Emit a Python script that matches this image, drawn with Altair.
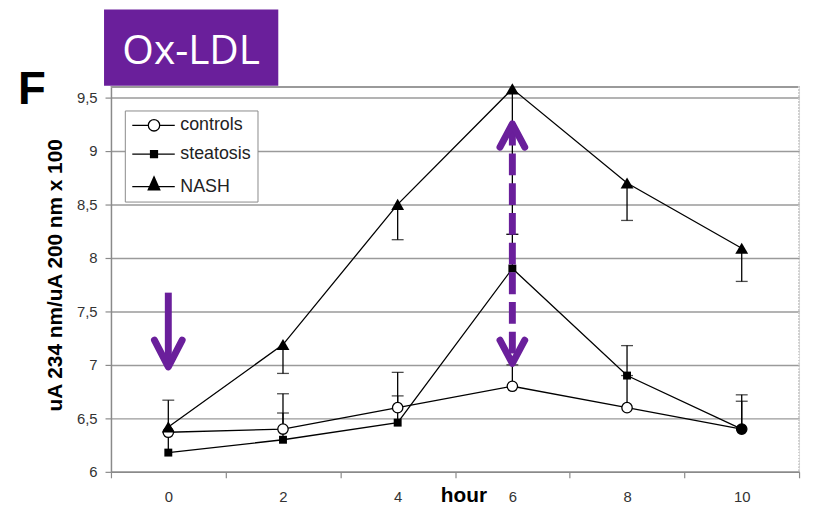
import altair as alt
import pandas as pd

# ---------------- data ----------------
hours = ["0", "2", "4", "6", "8", "10"]
series_names = ["controls", "steatosis", "NASH"]
controls = [6.37, 6.40, 6.60, 6.80, 6.60, 6.40]
steatosis = [6.18, 6.30, 6.46, 7.90, 6.90, 6.40]
nash = [6.42, 7.19, 8.50, 9.58, 8.70, 8.09]

# error bars: start value -> capped end value
err_hour = ["0", "2", "2", "2", "4", "4", "4", "6", "6", "6", "8", "8", "8", "10", "10", "10"]
err_from = [6.18, 7.19, 6.40, 6.30, 8.50, 6.60, 6.46, 9.58, 7.90, 6.80, 8.70, 6.90, 6.60, 8.09, 6.40, 6.40]
err_to = [6.67, 6.92, 6.73, 6.55, 8.17, 6.93, 6.71, 8.22, 8.22, 7.00, 8.35, 7.18, 6.90, 7.78, 6.72, 6.66]

y_ticks = [6, 6.5, 7, 7.5, 8, 8.5, 9, 9.5]
y_min, y_max = 6, 9.6

# purple annotation arrows (data units)
arrow1_hour, arrow1_top, arrow1_tip = "0", 7.675, 6.981
arrow2_hour, arrow2_top, arrow2_bottom = "6", 9.253, 7.013

panel_letter = "F"
badge_text = "Ox-LDL"

# ---------------- styling ----------------
W, H = 695, 389
PURPLE = "#6a1f9b"
FONT = "Liberation Sans"

df = pd.DataFrame({
    "hour": hours * 3,
    "series": [s for s in series_names for _ in hours],
    "value": controls + steatosis + nash,
})
df_err = pd.DataFrame({"hour": err_hour, "value": err_from, "to": err_to})
df_a1 = pd.DataFrame({"hour": [arrow1_hour], "value": [arrow1_top], "tip": [arrow1_tip]})
df_a2 = pd.DataFrame({"hour": [arrow2_hour], "value": [arrow2_top], "tip": [arrow2_bottom]})

xscale = alt.Scale(type="band", domain=hours, paddingInner=0, paddingOuter=0)
yscale = alt.Scale(domain=[y_min, y_max], nice=False, zero=False)

xaxis = alt.Axis(
    title="hour", tickBand="extent", labelAngle=0, grid=False,
    domainColor="#8a8a8a", domainWidth=1.5, tickColor="#8a8a8a", tickWidth=1.2, tickSize=6,
    labelFont=FONT, labelFontSize=15, labelColor="#333", labelPadding=12,
    titleFont=FONT, titleFontSize=21, titleFontWeight="bold", titleColor="black",
    titleX=356, titleY=30, titleBaseline="alphabetic", titleAlign="center",
)
yaxis = alt.Axis(
    title="uA 234 nm/uA 200 nm x 100", values=y_ticks,
    labelExpr="replace(toString(datum.value), '.', ',')",
    grid=True, gridColor="#9a9a9a", gridWidth=1.5,
    domainColor="#8a8a8a", domainWidth=1.5, tickColor="#8a8a8a", tickWidth=1.2, tickSize=6,
    labelFont=FONT, labelFontSize=15, labelColor="#333", labelPadding=8,
    titleFont=FONT, titleFontSize=21, titleFontWeight="bold", titleColor="black",
    titleX=-50, titleY=190, titleBaseline="alphabetic", titleAlign="center", titleAngle=-90,
)

X = alt.X("hour:N", sort=hours, scale=xscale, axis=xaxis)


def Y(field):
    return alt.Y(field, scale=yscale, axis=yaxis)


top_rule = alt.Chart(df).mark_rule(color="#9a9a9a", strokeWidth=1.5).encode(
    y=alt.datum(y_max), x=alt.value(0), x2=alt.value(W)
)
right_rule = alt.Chart(df).mark_rule(color="#cfcfcf", strokeWidth=1, strokeDash=[1, 2]).encode(
    x=alt.value(W), y=alt.value(0), y2=alt.value(H)
)

lines = alt.Chart(df).mark_line(color="black", strokeWidth=1.3).encode(
    x=X, y=Y("value:Q"), detail="series:N"
)

err_rules = alt.Chart(df_err).mark_rule(color="black", strokeWidth=1.3).encode(
    x=X, y=Y("value:Q"), y2="to:Q"
)
err_caps = alt.Chart(df_err).mark_tick(color="black", thickness=1.3, size=12, orient="horizontal").encode(
    x=X, y=Y("to:Q")
)

pts_ctrl = alt.Chart(df).transform_filter(alt.datum.series == "controls").mark_point(
    shape="circle", size=110, filled=True, stroke="black", strokeWidth=1.3, opacity=1
).encode(
    x=X, y=Y("value:Q"),
    fill=alt.condition("datum.hour == '10'", alt.value("black"), alt.value("white")),
)
pts_ste = alt.Chart(df).transform_filter(alt.datum.series == "steatosis").mark_point(
    shape="square", size=64, filled=True, color="black", opacity=1
).encode(x=X, y=Y("value:Q"))
pts_nash = alt.Chart(df).transform_filter(alt.datum.series == "NASH").mark_point(
    shape="triangle-up", size=169, filled=True, color="black", opacity=1
).encode(x=X, y=Y("value:Q"))

# legend symbols: line + marker (solid markers drawn as concentric outlines)
legend_paths = [
    "M-1.3,0L1.52,0M3.52,0L6.17,0M3.52,0A1,1 0 1,1 1.52,0A1,1 0 1,1 3.52,0Z",
    "M-1.3,0L6.17,0"
    "M1.91,-0.61L3.13,-0.61L3.13,0.61L1.91,0.61Z"
    "M2.11,-0.41L2.93,-0.41L2.93,0.41L2.11,0.41Z"
    "M2.31,-0.21L2.73,-0.21L2.73,0.21L2.31,0.21Z"
    "M2.48,-0.04L2.56,-0.04L2.56,0.04L2.48,0.04Z",
    "M-1.3,0L6.17,0"
    "M2.52,-1.75L3.54,0.57L1.5,0.57Z"
    "M2.52,-1.317L3.254,0.354L1.786,0.354Z"
    "M2.52,-0.884L2.969,0.137L2.071,0.137Z"
    "M2.52,-0.451L2.683,-0.079L2.357,-0.079Z",
]
legend_def = dict(
    title=None, orient="none", legendX=14, legendY=24, padding=6,
    strokeColor="#8a8a8a", fillColor="white", symbolSize=132,
    symbolStrokeWidth=1.3, symbolStrokeColor="black", symbolOpacity=1,
    symbolFillColor="white",
    labelFont=FONT, labelFontSize=18, labelColor="#222", labelOffset=32, rowPadding=11,
)
legend_layer = alt.Chart(df).mark_point(size=0, filled=False, stroke="black", strokeWidth=1.3).encode(
    x=X, y=Y("value:Q"),
    shape=alt.Shape("series:N", sort=series_names,
                    scale=alt.Scale(domain=series_names, range=legend_paths),
                    legend=alt.Legend(**legend_def)),
)

# purple arrows
a1_shaft = alt.Chart(df_a1).transform_calculate(end="datum.tip + 0.055").mark_rule(
    color=PURPLE, strokeWidth=7
).encode(x=X, y=Y("value:Q"), y2="end:Q")
a1_head = alt.Chart(df_a1).mark_point(
    shape="M-1,-1.93L0,0L1,-1.93", size=784, filled=False, color=PURPLE,
    strokeWidth=7, strokeCap="round", strokeJoin="round", opacity=1
).encode(x=X, y=Y("tip:Q"))

a2_shaft = alt.Chart(df_a2).mark_rule(color=PURPLE, strokeWidth=7, strokeDash=[22, 8]).encode(
    x=X, y=Y("value:Q"), y2="tip:Q"
)
a2_head_top = alt.Chart(df_a2).mark_point(
    shape="M-1,1.88L0,0L1,1.88", size=625, filled=False, color=PURPLE,
    strokeWidth=7, strokeCap="round", strokeJoin="round", opacity=1
).encode(x=X, y=Y("value:Q"))
a2_head_bot = alt.Chart(df_a2).mark_point(
    shape="M-1,-1.88L0,0L1,-1.88", size=625, filled=False, color=PURPLE,
    strokeWidth=7, strokeCap="round", strokeJoin="round", opacity=1
).encode(x=X, y=Y("tip:Q"))

# badge and panel letter
badge_box = alt.Chart(df_a1).mark_rect(color=PURPLE).encode(
    x=alt.value(-7), x2=alt.value(169), y=alt.value(-78), y2=alt.value(-1)
)
badge = alt.Chart(df_a1).mark_text(
    text=badge_text, font="Open Sans", fontSize=41, color="white", align="center", baseline="alphabetic"
).encode(x=alt.value(81), y=alt.value(-23))
letter = alt.Chart(df_a1).mark_text(
    text=panel_letter, font=FONT, fontSize=46, fontWeight="bold", color="black", align="left",
    baseline="alphabetic"
).encode(x=alt.value(-94), y=alt.value(17))

chart = alt.layer(
    top_rule, right_rule, lines, err_rules, err_caps, pts_ctrl, pts_ste, pts_nash,
    legend_layer, a1_shaft, a1_head, a2_shaft, a2_head_top, a2_head_bot,
    badge_box, badge, letter,
).properties(
    width=W, height=H,
    autosize=alt.AutoSizeParams(type="none"),
    padding={"left": 104, "top": 77, "right": 6, "bottom": 33},
).configure_view(stroke=None).configure(background="white")

chart.save("out.html", embed_options={"renderer": "svg", "actions": False})
